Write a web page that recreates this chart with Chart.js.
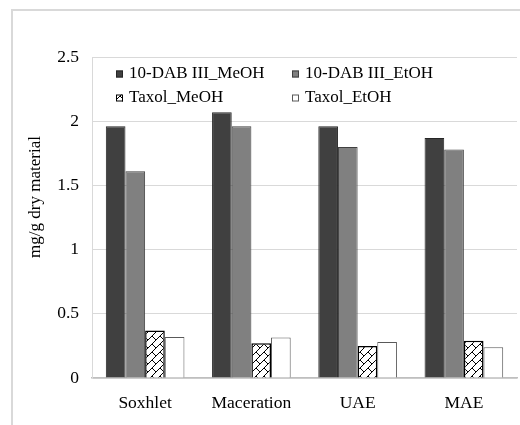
<!DOCTYPE html>
<html>
<head>
<meta charset="utf-8">
<script src="https://cdn.jsdelivr.net/npm/chart.js@4/dist/chart.umd.min.js"></script>
<style>
  body { margin: 0; background: #fff; }
  #wrap { position: relative; width: 520px; height: 425px; overflow: hidden; }
  #frame { position: absolute; left: 11px; top: 9px; width: 600px; height: 600px;
           border-left: 2px solid #d9d9d9; border-top: 2px solid #d9d9d9; }
  #c { position: absolute; left: 0; top: 0; }
</style>
</head>
<body>
<div id="wrap">
  <div id="frame"></div>
  <canvas id="c" width="520" height="425"></canvas>
</div>
<script>
// dati
const methods = ["Soxhlet", "Maceration", "UAE", "MAE"];
const dabMeOH = [1.96, 2.07, 1.96, 1.87];
const dabEtOH = [1.61, 1.96, 1.80, 1.78];
const taxolMeOH = [0.37, 0.27, 0.25, 0.29];
const taxolEtOH = [0.32, 0.315, 0.28, 0.24];
const yTicks = [0, 0.5, 1, 1.5, 2, 2.5];

const serif = "'Liberation Serif', 'Times New Roman', serif";

// tratteggio per Taxol_MeOH
function makeHatch() {
  const p = document.createElement("canvas");
  p.width = 8;
  p.height = 8;
  const c = p.getContext("2d");
  c.fillStyle = "#fff";
  c.fillRect(0, 0, 8, 8);
  c.strokeStyle = "#000";
  c.lineWidth = 1;
  c.beginPath();
  c.moveTo(-1, 9);
  c.lineTo(9, -1);
  c.moveTo(0, 0);
  c.lineTo(4, 4);
  c.stroke();
  return document.getElementById("c").getContext("2d").createPattern(p, "repeat");
}

const hatch = makeHatch();

// legenda e titolo asse disegnati a mano
const customText = {
  id: "customText",
  afterDraw(chart) {
    const ctx = chart.ctx;
    ctx.save();
    ctx.font = "17px " + serif;
    ctx.textBaseline = "middle";
    ctx.fillStyle = "#000";

    const pos = [
      [116, 74],
      [292, 74],
      [116, 98],
      [292, 98],
    ];
    chart.data.datasets.forEach((ds, i) => {
      const x = pos[i][0];
      const y = pos[i][1];
      ctx.fillStyle = ds.backgroundColor;
      ctx.fillRect(x, y - 3.5, 7, 7);
      ctx.strokeStyle = ds.borderColor;
      ctx.lineWidth = 1;
      ctx.strokeRect(x + 0.5, y - 3, 6, 6);
      ctx.fillStyle = "#000";
      ctx.textAlign = "left";
      ctx.fillText(ds.label, x + 13, y);
    });

    ctx.translate(36, 197);
    ctx.rotate(-Math.PI / 2);
    ctx.textAlign = "center";
    ctx.fillText("mg/g dry material", 0, 0);
    ctx.restore();
  },
};

function init() {
  const ctx = document.getElementById("c").getContext("2d");

  new Chart(ctx, {
    type: "bar",
    data: {
      labels: methods,
      datasets: [
        {
          label: "10-DAB III_MeOH",
          data: dabMeOH,
          backgroundColor: "#404040",
          borderColor: "#262626",
          borderWidth: 1,
        },
        {
          label: "10-DAB III_EtOH",
          data: dabEtOH,
          backgroundColor: "#808080",
          borderColor: "#404040",
          borderWidth: 1,
        },
        {
          label: "Taxol_MeOH",
          data: taxolMeOH,
          backgroundColor: hatch,
          borderColor: "#000",
          borderWidth: 1.5,
        },
        {
          label: "Taxol_EtOH",
          data: taxolEtOH,
          backgroundColor: "#fff",
          borderColor: "#595959",
          borderWidth: 1,
        },
      ],
    },
    options: {
      responsive: false,
      animation: false,
      layout: { padding: { top: 57, right: 3, left: 0, bottom: 0 } },
      datasets: {
        bar: { categoryPercentage: 0.74, barPercentage: 1 },
      },
      plugins: {
        legend: { display: false },
        tooltip: { enabled: false },
      },
      scales: {
        x: {
          grid: { display: false, drawTicks: false },
          border: { color: "#bfbfbf", width: 1.5 },
          ticks: {
            color: "#000",
            padding: 15,
            font: { family: serif, size: 17.5 },
          },
          afterFit(scale) {
            scale.height = 47;
          },
        },
        y: {
          min: 0,
          max: 2.5,
          afterBuildTicks(scale) {
            scale.ticks = yTicks.map((v) => ({ value: v }));
          },
          grid: { color: "#d9d9d9", drawTicks: false },
          border: { color: "#d9d9d9", width: 1 },
          ticks: {
            color: "#000",
            padding: 13,
            font: { family: serif, size: 17.5 },
            callback: (v) => String(v),
          },
          afterFit(scale) {
            scale.width = 92;
          },
        },
      },
    },
    plugins: [customText],
  });
}

init();
</script>
</body>
</html>
